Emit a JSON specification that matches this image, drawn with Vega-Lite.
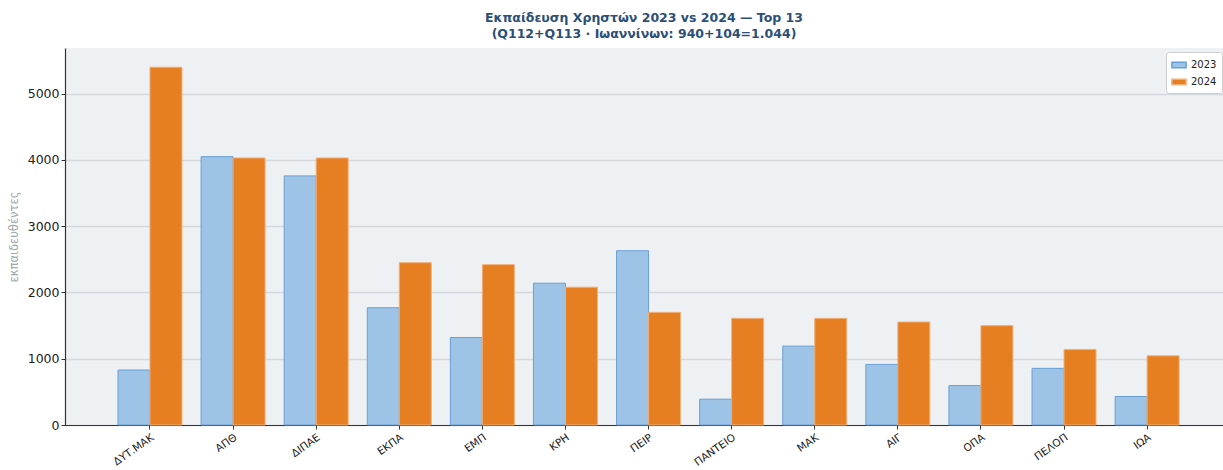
{
  "$schema": "https://vega.github.io/schema/vega-lite/v6.json",
  "autosize": {"type": "none"},
  "padding": {"left": 65, "top": 48, "right": 0, "bottom": 45},
  "width": 1158,
  "height": 377,
  "background": "white",
  "title": {
    "text": ["Εκπαίδευση Χρηστών 2023 vs 2024 — Top 13", "(Q112+Q113 · Ιωαννίνων: 940+104=1.044)"],
    "font": "DejaVu Sans",
    "fontSize": 12.5,
    "fontWeight": "bold",
    "color": "#2b4f77",
    "anchor": "middle",
    "lineHeight": 16,
    "offset": 8
  },
  "data": {
    "values": [
      {"uni": "ΔΥΤ.ΜΑΚ", "year": "2023", "value": 830},
      {"uni": "ΔΥΤ.ΜΑΚ", "year": "2024", "value": 5400},
      {"uni": "ΑΠΘ", "year": "2023", "value": 4050},
      {"uni": "ΑΠΘ", "year": "2024", "value": 4030},
      {"uni": "ΔΙΠΑΕ", "year": "2023", "value": 3760},
      {"uni": "ΔΙΠΑΕ", "year": "2024", "value": 4030},
      {"uni": "ΕΚΠΑ", "year": "2023", "value": 1770},
      {"uni": "ΕΚΠΑ", "year": "2024", "value": 2450},
      {"uni": "ΕΜΠ", "year": "2023", "value": 1320},
      {"uni": "ΕΜΠ", "year": "2024", "value": 2420},
      {"uni": "ΚΡΗ", "year": "2023", "value": 2140},
      {"uni": "ΚΡΗ", "year": "2024", "value": 2080},
      {"uni": "ΠΕΙΡ", "year": "2023", "value": 2630},
      {"uni": "ΠΕΙΡ", "year": "2024", "value": 1700},
      {"uni": "ΠΑΝΤΕΙΟ", "year": "2023", "value": 390},
      {"uni": "ΠΑΝΤΕΙΟ", "year": "2024", "value": 1610},
      {"uni": "ΜΑΚ", "year": "2023", "value": 1190},
      {"uni": "ΜΑΚ", "year": "2024", "value": 1610},
      {"uni": "ΑΙΓ", "year": "2023", "value": 915},
      {"uni": "ΑΙΓ", "year": "2024", "value": 1555},
      {"uni": "ΟΠΑ", "year": "2023", "value": 595},
      {"uni": "ΟΠΑ", "year": "2024", "value": 1500},
      {"uni": "ΠΕΛΟΠ", "year": "2023", "value": 855},
      {"uni": "ΠΕΛΟΠ", "year": "2024", "value": 1140},
      {"uni": "ΙΩΑ", "year": "2023", "value": 430},
      {"uni": "ΙΩΑ", "year": "2024", "value": 1044}
    ]
  },
  "mark": {"type": "bar", "strokeWidth": 1},
  "encoding": {
    "x": {
      "field": "uni",
      "type": "nominal",
      "sort": null,
      "scale": {"paddingInner": 0.23, "paddingOuter": 0.583, "align": 0.547},
      "axis": {
        "title": null,
        "labelAngle": -35,
        "labelAlign": "right",
        "labelBaseline": "top",
        "labelFontSize": 10.5,
        "labelPadding": 3,
        "grid": false,
        "ticks": true,
        "tickSize": 4
      }
    },
    "xOffset": {
      "field": "year",
      "type": "nominal",
      "scale": {"paddingInner": 0, "paddingOuter": 0}
    },
    "y": {
      "field": "value",
      "type": "quantitative",
      "scale": {"domain": [0, 5690], "nice": false, "zero": true},
      "axis": {
        "title": "εκπαιδευθέντες",
        "titleFontSize": 11.5,
        "titleFontWeight": "normal",
        "titleColor": "#9aa8aa",
        "titlePadding": 8,
        "values": [0, 1000, 2000, 3000, 4000, 5000],
        "format": "d",
        "labelFontSize": 12.5,
        "tickSize": 4,
        "grid": true,
        "gridColor": "#d5d8dc",
        "gridWidth": 1.3
      }
    },
    "fill": {
      "field": "year",
      "type": "nominal",
      "scale": {"domain": ["2023", "2024"], "range": ["#9dc3e6", "#e67e22"]},
      "legend": {
        "title": null,
        "orient": "none",
        "legendX": 1101,
        "legendY": 4,
        "fillColor": "white",
        "strokeColor": "#cccccc",
        "cornerRadius": 3,
        "padding": 5,
        "labelFontSize": 10,
        "symbolType": "M-1,-0.4H1V0.4H-1Z",
        "symbolSize": 200,
        "rowPadding": 3
      }
    },
    "stroke": {
      "field": "year",
      "type": "nominal",
      "scale": {"domain": ["2023", "2024"], "range": ["#6a9fd4", "#f0b07a"]},
      "legend": null
    }
  },
  "config": {
    "font": "DejaVu Sans",
    "view": {"stroke": null, "fill": "#eef1f3"},
    "axis": {
      "labelFont": "DejaVu Sans",
      "titleFont": "DejaVu Sans",
      "labelColor": "#222222",
      "domainColor": "#333333",
      "tickColor": "#333333",
      "domainWidth": 1.2
    },
    "legend": {"labelFont": "DejaVu Sans", "labelColor": "#222222"}
  }
}
